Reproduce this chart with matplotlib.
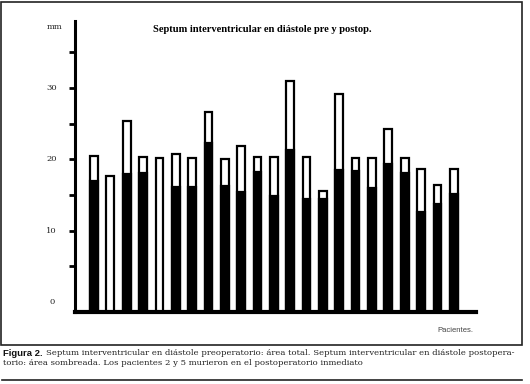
import numpy as np
import matplotlib
matplotlib.use("Agg")
import matplotlib.pyplot as plt
from matplotlib.patches import Rectangle
from matplotlib.lines import Line2D

# septum thickness (mm) per patient
patients = list(range(1, 24))
pre_total = [20.5, 17.7, 25.4, 20.4, 20.2, 20.7, 20.2, 26.7, 20.1, 21.9, 20.4, 20.4,
             31.0, 20.4, 15.5, 29.1, 20.2, 20.2, 24.2, 20.2, 18.6, 16.4, 18.7]
post_shaded = [17.0, 0, 18.0, 18.1, 0, 16.1, 16.1, 22.3, 16.2, 15.4, 18.2, 14.8,
               21.3, 14.4, 14.4, 18.5, 18.4, 16.0, 19.4, 18.1, 12.6, 13.7, 15.2]
ytick_labels = [0, 10, 20, 30]

title = "Septum interventricular en diástole pre y postop."
caption1 = ("Septum interventricular en diástole preoperatorio: área total. "
            "Septum interventricular en diástole postopera-")
caption2 = "torio: área sombreada. Los pacientes 2 y 5 murieron en el postoperatorio inmediato"

W, H = 530, 384
fig = plt.figure(figsize=(W / 100, H / 100), dpi=100)

def fx(px):
    return px / W

def fy(py):
    return 1 - py / H

ax = fig.add_axes([fx(75), fy(312), fx(476) - fx(75), fy(21) - fy(312)])
ybot = -1.4
ax.set_xlim(-0.16, 24.36)
ax.set_ylim(ybot, 39.4)

bw = 0.47
x = np.array(patients)
pre = np.array(pre_total)
post = np.array(post_shaded)

ax.bar(x, pre - ybot, bottom=ybot, width=bw, color="white", edgecolor="black", linewidth=1.6, zorder=2)
alive = post > 0
ax.bar(x[alive], post[alive] - ybot, bottom=ybot, width=bw, color="black", edgecolor="black",
       linewidth=1.6, zorder=3)

for s in ["top", "right"]:
    ax.spines[s].set_visible(False)
ax.spines["left"].set_linewidth(2.2)
ax.spines["bottom"].set_linewidth(3)
ax.spines["bottom"].set_zorder(4)
ax.set_xticks([])
ax.set_yticks(range(5, 40, 5))
ax.set_yticklabels([])
ax.tick_params(axis="y", length=4, width=2, direction="out")

ytr = ax.get_yaxis_transform()
for v in ytick_labels:
    ax.text(-0.058, v, str(v), transform=ytr, ha="center", va="center",
            fontsize=6, family="DejaVu Serif", color="#222222")
ax.text(-0.052, 38.6, "mm", transform=ytr, ha="center", va="center",
        fontsize=6, family="DejaVu Serif", color="#222222")

fig.text(fx(262), fy(30), title, ha="center", va="center", fontsize=7.6,
         family="Liberation Serif", fontweight="bold")
fig.text(fx(473), fy(331), "Pacientes.", ha="right", va="center", fontsize=5.5,
         family="Liberation Sans", color="#444444")

# outer frame and bottom rule
fig.patches.append(Rectangle((fx(1), fy(345)), fx(522) - fx(1), fy(2) - fy(345),
                             transform=fig.transFigure, fill=False, edgecolor="#222222", linewidth=1.2))
fig.lines.append(Line2D([fx(2), fx(522)], [fy(380), fy(380)], transform=fig.transFigure,
                        color="#222222", linewidth=1.2))

t = fig.text(fx(3), fy(353), "Figura 2.", ha="left", va="center", fontsize=6.8,
             family=["Liberation Sans Narrow", "Liberation Sans"], fontweight="bold", color="#111111")
fig.canvas.draw()
x0 = t.get_window_extent().x1 + 3
c1 = fig.text(x0 / W, fy(353), caption1, ha="left", va="center", fontsize=6.3,
              family="DejaVu Serif", color="#222222")
fig.canvas.draw()
# fit first caption line to the frame width
fs = 6.3 * (516 - x0) / c1.get_window_extent().width
c1.set_fontsize(fs)
fig.text(fx(3), fy(363), caption2, ha="left", va="center", fontsize=fs,
         family="DejaVu Serif", color="#222222")

fig.savefig("out.png", dpi=100)
